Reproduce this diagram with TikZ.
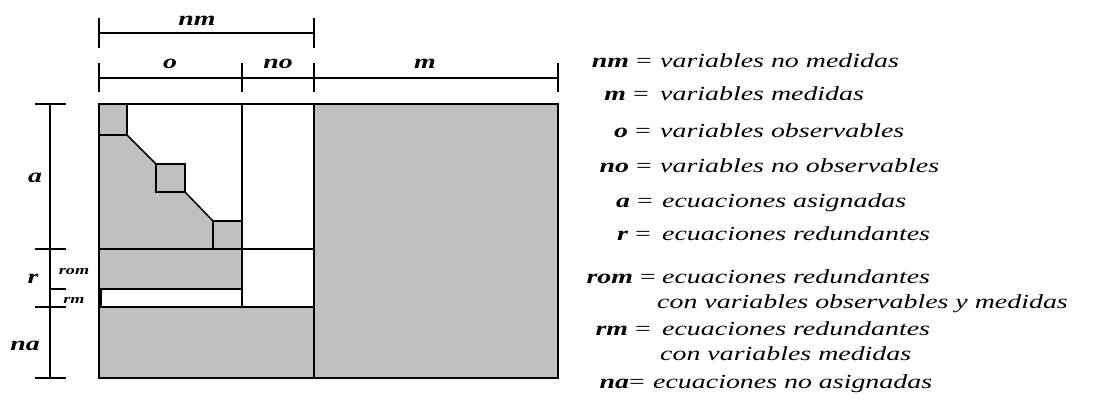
\documentclass[tikz,border=0pt]{standalone}
\usepackage{fontspec}
\setmainfont{Liberation Serif}
\usepackage{graphicx}
\definecolor{cellgray}{HTML}{C0C0C0}
\tikzset{
  mat/.style={line width=1.5bp, draw=black},
  dim/.style={line width=1.3bp, draw=black},
  biglab/.style={inner sep=0pt, font=\fontsize{20}{24}\selectfont\bfseries\itshape},
  smalllab/.style={inner sep=0pt, font=\fontsize{13}{15}\selectfont\bfseries\itshape},
  legl/.style={inner sep=0pt, anchor=base east, font=\fontsize{20}{24}\selectfont},
  legt/.style={inner sep=0pt, anchor=base west, font=\fontsize{20}{24}\selectfont\itshape},
}
\newcommand{\wide}[1]{\scalebox{1.4}[1]{#1}}
\newcommand{\lb}[1]{\wide{\textbf{\textit{#1}} =}}
\begin{document}
\begin{tikzpicture}[x=1bp,y=-1bp]
\useasboundingbox (0,0) rectangle (1103,399);
% fills
\fill[cellgray] (314,104) rectangle (558,378);
\fill[cellgray] (99,307) rectangle (314,378);
\fill[cellgray] (99,249) rectangle (242,289);
\fill[cellgray] (99,104) -- (127,104) -- (127,135) -- (156,164) -- (185,164) -- (185,192)
  -- (213,221) -- (242,221) -- (242,249) -- (99,249) -- cycle;
% matrix lines
\draw[mat] (99,104) rectangle (558,378);
\draw[mat] (242,104) -- (242,307);
\draw[mat] (314,104) -- (314,378);
\draw[mat] (99,249) -- (314,249);
\draw[mat] (99,307) -- (314,307);
\draw[mat] (99,289) -- (242,289);
\draw[line width=3bp] (100.5,289) -- (100.5,307);
\draw[mat] (99,104) rectangle (127,135);
\draw[mat] (156,164) rectangle (185,192);
\draw[mat] (213,221) rectangle (242,249);
\draw[mat] (127,135) -- (156,164);
\draw[mat] (185,192) -- (213,221);
% top dimensions
\draw[dim] (99,33) -- (314,33);
\draw[dim] (99,18) -- (99,48);
\draw[dim] (314,18) -- (314,48);
\draw[dim] (99,78) -- (558,78);
\foreach \x in {99,242,314,558} \draw[dim] (\x,63) -- (\x,92);
% left dimensions
\draw[dim] (50,104) -- (50,378);
\foreach \y in {104,249,307,378} \draw[dim] (35,\y) -- (66,\y);
\draw[dim] (50,289) -- (66,289);
% dimension labels
\node[biglab, anchor=base] (nm) at (197,25) {\wide{nm}};
\node[biglab, anchor=base] (o) at (170,68) {\wide{o}};
\node[biglab, anchor=base] (no) at (278,68) {\wide{no}};
\node[biglab, anchor=base] (m) at (425,68) {\wide{m}};
\node[biglab, anchor=base] (a) at (35,182) {\wide{a}};
\node[biglab, anchor=base] (r) at (33,283) {\wide{r}};
\node[biglab, anchor=base] (na) at (25,350) {\wide{na}};
\node[smalllab, anchor=base] (rom) at (74,274) {\wide{rom}};
\node[smalllab, anchor=base] (rm) at (74,303) {\wide{rm}};
% legend
\node[legl] (l1) at (652,67) {\lb{nm}};
\node[legt] (t1) at (660,67) {\wide{variables no medidas}};
\node[legl] (l2) at (649,100) {\lb{m}};
\node[legt] (t2) at (660,100) {\wide{variables medidas}};
\node[legl] (l3) at (651,137) {\lb{o}};
\node[legt] (t3) at (660,137) {\wide{variables observables}};
\node[legl] (l4) at (652,172) {\lb{no}};
\node[legt] (t4) at (660,172) {\wide{variables no observables}};
\node[legl] (l5) at (653,207) {\lb{a}};
\node[legt] (t5) at (662,207) {\wide{ecuaciones asignadas}};
\node[legl] (l6) at (651,240) {\lb{r}};
\node[legt] (t6) at (662,240) {\wide{ecuaciones redundantes}};
\node[legl] (l7) at (656,283) {\lb{rom}};
\node[legt] (t7) at (662,283) {\wide{ecuaciones redundantes}};
\node[legt] (t7b) at (657,308) {\wide{con variables observables y medidas}};
\node[legl] (l8) at (651,335) {\lb{rm}};
\node[legt] (t8) at (662,335) {\wide{ecuaciones redundantes}};
\node[legt] (t8b) at (660,360) {\wide{con variables medidas}};
\node[legl] (l9) at (645,388) {\wide{\textbf{\textit{na}}=}};
\node[legt] (t9) at (653,388) {\wide{ecuaciones no asignadas}};
\end{tikzpicture}
\end{document}
